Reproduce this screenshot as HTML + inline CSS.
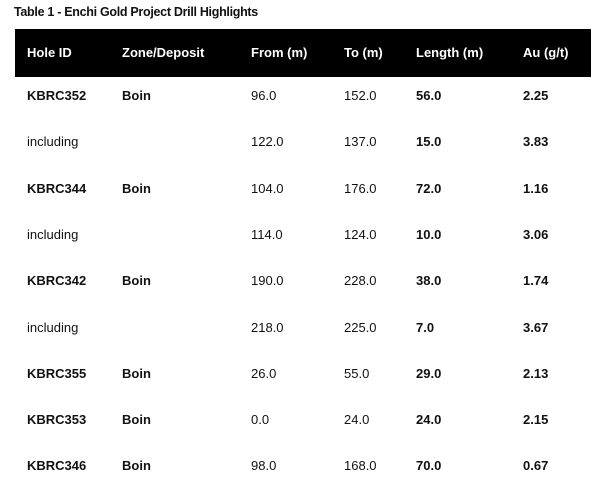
<!DOCTYPE html>
<html><head><meta charset="utf-8"><style>
body{margin:0;width:600px;height:493px;background:#fff;font-family:"Liberation Sans",sans-serif;color:#111;position:relative;overflow:hidden}
.t{position:absolute;white-space:nowrap;font-size:13px;line-height:16px}
.b{font-weight:bold}
#title{position:absolute;left:14px;top:5px;font-size:12.5px;font-weight:bold;letter-spacing:-0.3px}
#hdr{position:absolute;left:15px;top:29px;width:576px;height:48px;background:#000}
.h{color:#fff;font-weight:bold;top:45px}
</style></head><body>
<div id="title">Table 1 - Enchi Gold Project Drill Highlights</div>
<div id="hdr"></div>
<div id="tbl"></div>
<script>
const cols=[27,122,251,344,416,523];
const headers=["Hole ID","Zone/Deposit","From (m)","To (m)","Length (m)","Au (g/t)"];
const rows=[
["KBRC352","Boin","96.0","152.0","56.0","2.25"],
["including","","122.0","137.0","15.0","3.83"],
["KBRC344","Boin","104.0","176.0","72.0","1.16"],
["including","","114.0","124.0","10.0","3.06"],
["KBRC342","Boin","190.0","228.0","38.0","1.74"],
["including","","218.0","225.0","7.0","3.67"],
["KBRC355","Boin","26.0","55.0","29.0","2.13"],
["KBRC353","Boin","0.0","24.0","24.0","2.15"],
["KBRC346","Boin","98.0","168.0","70.0","0.67"]];
const tbl=document.getElementById('tbl');
headers.forEach((h,i)=>{const d=document.createElement('div');d.className='t h';d.style.left=cols[i]+'px';d.textContent=h;


tbl.appendChild(d);});
rows.forEach((r,ri)=>{const y=88+ri*46.3;const inc=r[0]==='including';
r.forEach((v,ci)=>{if(!v)return;const d=document.createElement('div');
let bold=(ci>=4)||(!inc&&ci<2);d.className='t'+(bold?' b':'');d.style.left=cols[ci]+'px';d.style.top=y+'px';d.textContent=v;


tbl.appendChild(d);});});
</script>
</body></html>
